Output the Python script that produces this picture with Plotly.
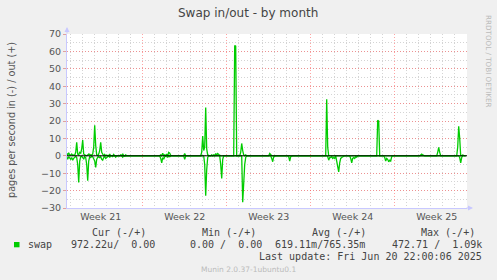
import pandas as pd
import plotly.graph_objects as go

# ---------------- data ----------------
START = "2025-05-19 16:00"   # first 2-hour sample
STEP_HOURS = 2
N_SAMPLES = 400

# swap out (+): sample index -> pages/s
out_idx = [0, 1, 2, 3, 4, 5, 6, 7, 8, 9, 10, 11, 12, 13, 14, 15, 16, 17, 18, 19,
           21, 22, 23, 24, 25, 26, 27, 28, 29, 30, 32, 33, 34, 35, 36, 38, 40, 43,
           47, 51, 54, 56, 59,
           94, 96, 98, 100, 102, 103, 104, 118,
           135, 136, 137, 138, 139, 140, 141,
           145, 147, 149, 150, 151, 152, 153,
           168, 169, 174, 175, 176, 177, 179,
           203, 204, 260, 261, 311, 312,
           346, 354, 355, 356, 371, 372, 373,
           391, 392, 393, 396, 397]
out_val = [1.5, 0.3, 1.8, 0.5, 0.3, 1.0, 0.2, 0.5, 0.3, 2.0, 7.8, 1.0, 0.5, 2.0, 1.5, 4.0, 9.0, 1.0, 0.5, 0.3,
           0.5, 1.0, 0.8, 0.3, 0.5, 1.0, 5.0, 17.6, 6.0, 0.5, 1.0, 3.0, 7.7, 2.0, 0.5, 0.8, 0.3, 1.0,
           0.8, 0.3, 0.5, 1.2, 0.5,
           0.5, 1.5, 0.5, 1.0, 2.0, 1.5, 0.3, 1.3,
           2.0, 11.3, 3.0, 5.0, 27.7, 4.0, 0.5,
           0.5, 0.5, 1.3, 0.5, 1.3, 0.8, 0.3,
           63.4, 63.0, 2.0, 7.1, 3.0, 0.5, 0.5,
           1.3, 0.3, 32.5, 5.0, 20.4, 20.0,
           0.3, 0.5, 1.0, 0.5, 2.0, 4.8, 2.0,
           5.0, 17.0, 10.0, 0.5, 0.3]

# swap in (-): sample index -> pages/s (drawn below zero)
in_idx = [0, 1, 2, 3, 4, 5, 6, 7, 8, 9, 10, 11, 12, 13, 14, 15, 16, 17, 18, 19,
          20, 21, 22, 23, 24, 25, 26, 27, 28, 29, 30, 31, 32, 33, 34, 35, 36, 37,
          38, 39, 40, 41, 43, 46, 49, 53, 56, 58,
          94, 95, 96, 97, 98, 99, 101, 103, 118,
          138, 139, 140, 141, 154, 155, 156,
          176, 177, 178, 179,
          205, 206, 207, 222, 223, 224,
          261, 262, 263, 264, 265, 266, 267, 268, 270, 271, 272, 273, 274, 275, 276,
          284, 285, 286, 287, 288, 289, 290,
          318, 319, 320, 321, 322, 323, 324, 325,
          393, 394, 395]
in_val = [0.5, 2.0, 0.5, 1.5, 2.0, 1.0, 2.5, 1.5, 0.5, 0.3, 1.0, 5.0, 15.3, 3.0, 0.5, 0.3, 1.0, 2.0, 0.5, 1.0,
          5.0, 14.3, 3.0, 0.5, 1.0, 0.3, 0.5, 1.5, 3.0, 6.7, 2.0, 1.0, 0.5, 1.0, 0.5, 2.0, 2.5, 1.0,
          0.5, 1.5, 1.0, 0.3, 1.0, 0.5, 0.8, 0.3, 0.8, 0.3,
          1.5, 4.0, 1.0, 2.0, 0.5, 0.3, 1.0, 0.5, 2.0,
          5.0, 23.0, 8.0, 1.0, 5.0, 13.0, 2.0,
          26.7, 14.0, 5.0, 1.0,
          1.5, 3.4, 0.5, 0.5, 3.0, 0.5,
          0.5, 2.5, 1.0, 1.0, 0.5, 1.5, 1.0, 1.5, 3.0, 6.0, 9.2, 4.0, 1.5, 1.0, 0.5,
          1.5, 4.0, 1.5, 1.0, 1.5, 0.5, 0.8,
          1.0, 3.0, 1.5, 2.0, 3.5, 2.5, 3.0, 0.5,
          1.0, 4.0, 1.0]

y_ticks = [-30, -20, -10, 0, 10, 20, 30, 40, 50, 60, 70]

legend_header = ["Cur (-/+)", "Min (-/+)", "Avg (-/+)", "Max (-/+)"]
legend_values = ["972.22u/  0.00", "0.00 /  0.00", "619.11m/765.35m", "472.71 /  1.09k"]
series_name = "swap"
last_update = "Last update: Fri Jun 20 22:00:06 2025"

# ---------------- build series ----------------
times = pd.date_range(START, periods=N_SAMPLES, freq=f"{STEP_HOURS}h")
out_series = [0.0] * N_SAMPLES
for i, v in zip(out_idx, out_val):
    out_series[i] = v
in_series = [0.0] * N_SAMPLES
for i, v in zip(in_idx, in_val):
    in_series[i] = -v

GREEN = "#00CC00"
AXIS = "#C8C8FF"
TXT = "#555555"
MAJOR = "rgba(255,90,90,0.55)"
MINOR = "#D4D4D4"
DOT = "1px,2px"

fig = go.Figure()
fig.add_trace(go.Scatter(x=times, y=in_series, mode="lines",
                         line=dict(color=GREEN, width=1.3), hoverinfo="skip"))
fig.add_trace(go.Scatter(x=times, y=out_series, mode="lines",
                         line=dict(color=GREEN, width=1.3), hoverinfo="skip"))
fig.add_hline(y=0, line=dict(color="black", width=1))

W, H = 497, 280
L, R, T, B = 67, 30, 34, 72
PW, PH = W - L - R, H - T - B


def px(xp):
    return (xp - L) / PW


def py(yp):
    return (H - B - yp) / PH


fig.update_layout(
    width=W, height=H, autosize=False,
    margin=dict(l=L, r=R, t=T, b=B, pad=0),
    paper_bgcolor="#F0F0F0", plot_bgcolor="white",
    showlegend=False,
    font=dict(family="DejaVu Sans", size=10, color=TXT),
    xaxis=dict(
        type="date",
        range=["2025-05-19 16:36", "2025-06-22 00:36"],
        tick0="2025-05-26", dtick=7 * 86400000,
        ticklabelmode="period", tickformat="Week %V",
        showgrid=True, gridcolor=MAJOR, griddash=DOT, gridwidth=1,
        minor=dict(dtick=86400000, tick0="2025-05-26", showgrid=True,
                   gridcolor=MINOR, griddash=DOT, gridwidth=1),
        showline=True, linecolor=AXIS, linewidth=1,
        ticks="", zeroline=False,
        tickfont=dict(family="DejaVu Sans", size=9.5, color=TXT),
    ),
    yaxis=dict(
        range=[-30, 70], tickvals=y_ticks,
        showgrid=True, gridcolor=MAJOR, griddash=DOT, gridwidth=1,
        minor=dict(dtick=5, showgrid=True, gridcolor=MINOR, griddash=DOT, gridwidth=1),
        showline=True, linecolor=AXIS, linewidth=1,
        ticks="outside", ticklen=3, tickcolor="#E0A0A0",
        zeroline=False,
        tickfont=dict(family="DejaVu Sans", size=9.5, color=TXT),
    ),
)

ann = []
# title
ann.append(dict(text="Swap in/out - by month", x=px(248), y=py(13), xanchor="center", yanchor="middle",
                font=dict(family="DejaVu Sans", size=12, color="#444444")))
# y title
ann.append(dict(text="pages per second in (-) / out (+)", x=px(12), y=py(120), textangle=-90,
                xanchor="center", yanchor="middle",
                font=dict(family="DejaVu Sans", size=9.7, color=TXT)))
# rrdtool credit
ann.append(dict(text="RRDTOOL / TOBI OETIKER", x=px(489), y=py(61), textangle=90,
                xanchor="center", yanchor="middle",
                font=dict(family="DejaVu Sans", size=7.2, color="#BBBBBB")))
# legend header
MONO = "DejaVu Sans Mono"
for txt, right in zip(legend_header, [146.7, 256.7, 366.7, 476.0]):
    ann.append(dict(text=txt.replace(" ", "\u00a0"), x=px(right), y=py(232.7), xanchor="right", yanchor="middle",
                    font=dict(family=MONO, size=10, color="#444444")))
ann.append(dict(text=series_name, x=px(26.7), y=py(244.7), xanchor="left", yanchor="middle",
                font=dict(family=MONO, size=10, color="#444444")))
for txt, right in zip(legend_values, [156.0, 263.3, 366.0, 482.7]):
    ann.append(dict(text=txt.replace(" ", "\u00a0"), x=px(right), y=py(244.7), xanchor="right", yanchor="middle",
                    font=dict(family=MONO, size=10, color="#444444")))
ann.append(dict(text=last_update.replace(" ", "\u00a0"), x=px(482.7), y=py(256.7), xanchor="right", yanchor="middle",
                font=dict(family=MONO, size=10, color="#444444")))
ann.append(dict(text="Munin 2.0.37-1ubuntu0.1", x=px(248), y=py(269.3), xanchor="center", yanchor="middle",
                font=dict(family="DejaVu Sans", size=7.5, color="#BBBBBB")))
# axis arrows
ann.append(dict(text="", x=px(473), y=0, ax=-7, ay=0, showarrow=True, arrowhead=2, arrowsize=1,
                arrowwidth=1, arrowcolor=AXIS, axref="pixel", ayref="pixel"))
ann.append(dict(text="", x=0, y=py(27), ax=0, ay=7, showarrow=True, arrowhead=2, arrowsize=1,
                arrowwidth=1, arrowcolor=AXIS, axref="pixel", ayref="pixel"))
for a in ann:
    a.setdefault("xref", "paper")
    a.setdefault("yref", "paper")
    a.setdefault("showarrow", False)
    a.setdefault("borderpad", 0)
fig.update_layout(annotations=ann)

# legend colour box
fig.add_shape(type="rect", xref="paper", yref="paper",
              x0=px(14), x1=px(19.5), y0=py(247.3), y1=py(242),
              fillcolor=GREEN, line=dict(width=0))

fig.write_html("out.html", config={"displayModeBar": False})
